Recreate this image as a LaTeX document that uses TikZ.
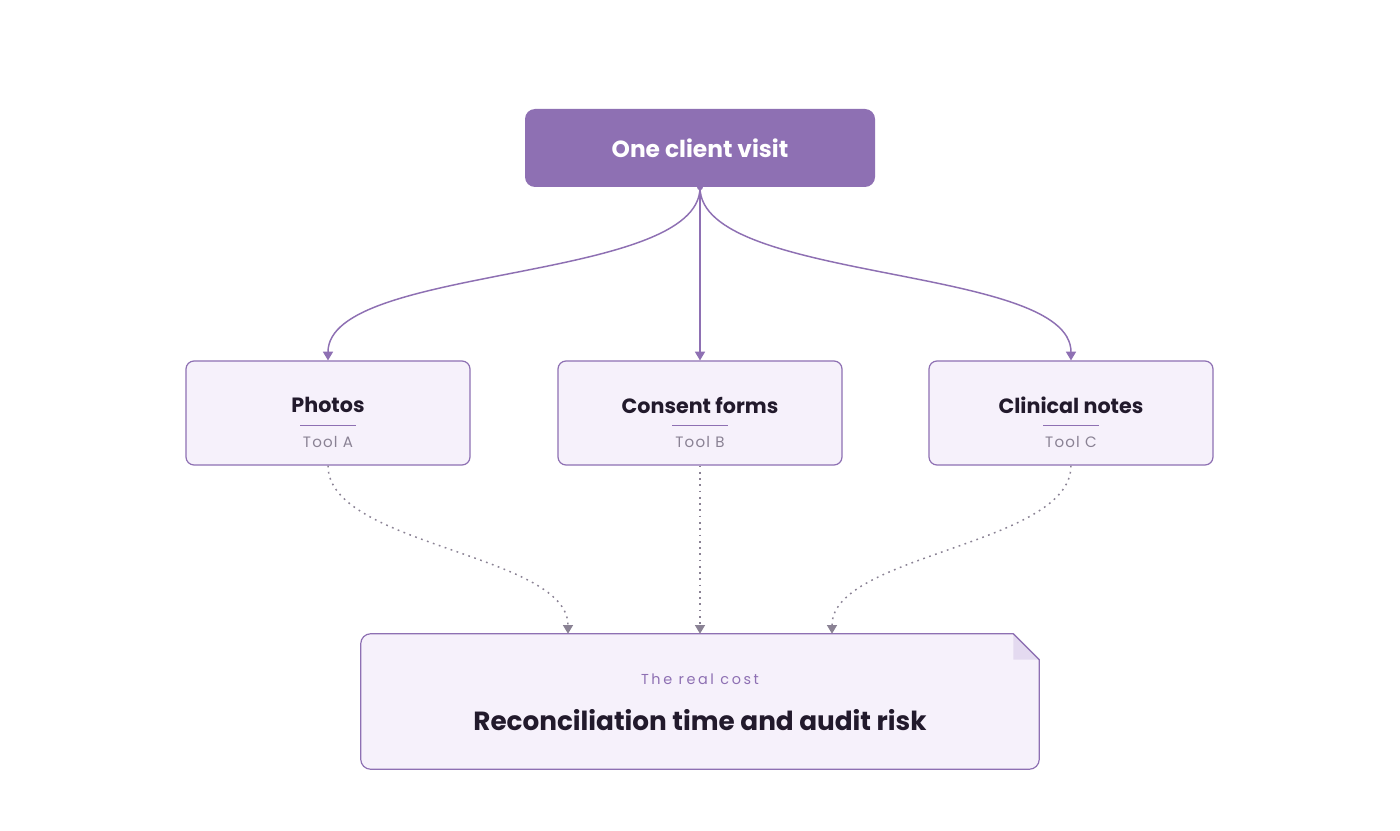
\documentclass[tikz,border=0pt]{standalone}
\usepackage{fontspec}
\setmainfont{Poppins}
\usetikzlibrary{arrows.meta, positioning, calc}
\definecolor{vio}{HTML}{8E70B3}
\definecolor{viofill}{HTML}{F6F1FB}
\definecolor{viofold}{HTML}{E4DAF0}
\definecolor{ink}{HTML}{221A2C}
\definecolor{muted}{HTML}{8A8294}

\begin{document}
\begin{tikzpicture}[x=0.75pt, y=-0.75pt,
      >={Triangle[width=7.5pt, length=6.5pt]},
      every node/.style={inner sep=0pt},
      visitbox/.style={rounded corners=7.5pt, fill=vio, text=white,
        minimum width=262.5pt, minimum height=58.5pt,
        font=\fontsize{17.5}{20}\selectfont\bfseries},
      toolbox/.style={rounded corners=6pt, draw=vio, fill=viofill,
        line width=0.9pt, minimum width=213pt, minimum height=78pt},
      tooltitle/.style={text=ink, font=\fontsize{15.5}{17}\selectfont\bfseries},
      toolsub/.style={text=muted,
        font=\fontsize{11.3}{13}\selectfont\addfontfeatures{LetterSpace=8}},
      flow/.style={->, draw=vio, line width=1.1pt},
      leak/.style={->, draw=muted, line width=1.1pt,
        dash pattern=on 1.3pt off 3.4pt}]
    \useasboundingbox[fill=white] (0,0) rectangle (1400,831);

    % source
    \node[visitbox] (visit) at (700,148) {One client visit};

    % the three tools
    \foreach \n/\x/\t/\s in {photos/328/Photos/A,
        consent/700/Consent forms/B, notes/1071/Clinical notes/C}{
      \node[toolbox] (\n) at (\x,413) {};
      \node[tooltitle] (\n-t) at (\x,405) {\t};
      \draw[vio, line width=0.75pt] (\x-28,425) -- (\x+28,425);
      \node[toolsub] (\n-s) at (\x,442) {Tool \s};
    }

    % outcome
    \node[minimum width=508.5pt, minimum height=101.25pt] (cost) at (700,701.5) {};
    \draw[vio, fill=viofill, line width=0.9pt]
      ([xshift=-19.5pt]cost.north east) -- ([yshift=-19.5pt]cost.north east)
      {[rounded corners=7.5pt] -- (cost.south east) -- (cost.south west)
        -- (cost.north west)} -- cycle;
    \fill[viofold] ([xshift=-19.5pt]cost.north east)
      -- ([xshift=-19.5pt, yshift=-19.5pt]cost.north east)
      -- ([yshift=-19.5pt]cost.north east) -- cycle;
    \draw[vio, line width=0.9pt] ([xshift=-19.5pt]cost.north east)
      -- ([yshift=-19.5pt]cost.north east);
    \node[text=vio, font=\fontsize{10.8}{12}\selectfont\addfontfeatures{LetterSpace=18}]
      (cost-k) at (700,679) {The real cost};
    \node[text=ink, font=\fontsize{19.7}{22}\selectfont\bfseries]
      (cost-t) at (700,720) {Reconciliation time and audit risk};

    % connectors
    \fill[vio] (visit.south) circle (2.2pt);
    \draw[flow] (visit.south) to[out=-90, in=90, looseness=0.6] (photos.north);
    \draw[flow] (visit.south) -- (consent.north);
    \draw[flow] (visit.south) to[out=-90, in=90, looseness=0.6] (notes.north);

    \coordinate (inA) at ($(cost.north)+(-132,0)$);
    \coordinate (inC) at ($(cost.north)+(132,0)$);
    \draw[leak] (photos.south) to[out=-90, in=90, looseness=0.7] (inA);
    \draw[leak] (consent.south) -- (cost.north);
    \draw[leak] (notes.south) to[out=-90, in=90, looseness=0.7] (inC);
  \end{tikzpicture}
\end{document}
